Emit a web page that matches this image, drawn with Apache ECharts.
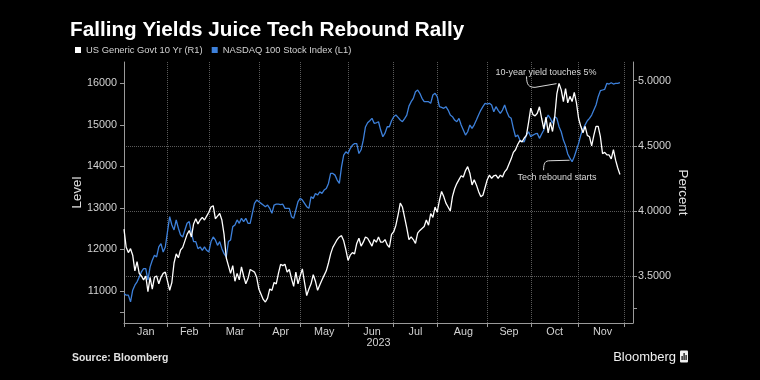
<!DOCTYPE html>
<html><head><meta charset="utf-8">
<script src="https://cdn.jsdelivr.net/npm/echarts@6/dist/echarts.min.js"></script>
<style>html,body{margin:0;padding:0;background:#000;}#c{width:760px;height:380px;}</style>
</head><body><div id="c"></div>
<script>
// ---- data ----
const holidays = ['2023-01-16','2023-02-20','2023-04-07','2023-05-29','2023-06-19','2023-07-04','2023-09-04','2023-11-23'];
const firstDay = '2023-01-03';
const lastDay = '2023-12-07';
const monthLabels = ['Jan','Feb','Mar','Apr','May','Jun','Jul','Aug','Sep','Oct','Nov'];
const yearLabel = '2023';
const leftLabelValues = [11000,12000,13000,14000,15000,16000];
const leftTickValues = [10500,11000,12000,13000,14000,15000,16000];
const rightLabelValues = [3.5,4.0,4.5,5.0];
const rightTickValues = [3.25,3.5,4.0,4.5,5.0];
const seriesNames = ['US Generic Govt 10 Yr (R1)','NASDAQ 100 Stock Index (L1)'];

const nasdaq = [
10940,10900,10900,10740,11020,11140,11220,11340,11460,11540,
11540,11260,11580,11740,11860,11820,12060,12140,11940,12060,
12430,12790,12590,12470,12710,12510,12350,12300,12470,12630,
12670,12390,12190,12190,12020,12060,11980,12060,11980,11940,
12190,12300,12230,12100,12190,12020,11900,11820,12190,12230,
12550,12590,12710,12630,12750,12670,12750,12630,12630,12870,
13110,13190,13150,13110,
13070,13030,13070,12990,12870,13070,13090,13090,13080,13090,
12990,12990,12990,12790,12750,12950,13150,13230,13190,13110,
13030,12990,13270,13230,13350,13310,13390,13350,13430,13470,
13590,13830,13830,13790,13670,13590,13990,14270,14350,14310,
14430,14510,14550,14550,14310,14400,14630,14950,15050,15100,
15157,15036,15050,15075,14875,14713,14800,14954,14954,15100,
15196,15236,15180,15116,15075,15150,15236,15450,15557,15638,
15798,15839,15759,15638,15557,15557,15557,15518,15718,15759,
15678,15437,15420,15398,15437,15357,15236,15196,15116,15075,
15157,14995,14875,14754,14834,14995,14916,15000,15116,15236,
15350,15437,15518,15500,15518,15477,15316,15437,15350,15277,
15357,15477,15316,15196,15157,14916,14713,14754,14634,14600,
14593,14754,14834,14713,14754,14780,
14795,14675,14780,14875,15116,15236,15157,15036,15196,15157,
14954,14834,14634,14500,14300,14200,14112,14232,14393,14554,
14754,14900,15000,15100,15157,15236,15357,15477,15678,15822,
15839,15855,16000,15983,16014,15983,16000,16000,16014
];

const usYield = [
3.86,3.72,3.68,3.71,3.66,3.54,3.61,3.52,3.50,3.47,
3.50,3.38,3.49,3.40,3.49,3.50,3.44,3.49,3.52,3.53,
3.46,3.39,3.45,3.60,3.67,3.64,3.70,3.72,3.77,3.82,
3.85,3.80,3.90,3.94,3.90,3.93,3.95,3.93,3.96,3.99,
4.03,4.04,3.94,3.96,3.98,3.93,3.82,3.64,3.58,3.52,
3.58,3.46,3.52,3.47,3.57,3.50,3.44,3.48,3.55,3.54,
3.53,3.49,3.40,3.36,
3.32,3.30,3.33,3.40,3.39,3.45,3.44,3.52,3.59,3.58,
3.59,3.53,3.55,3.48,3.42,3.53,3.44,3.50,3.555,3.45,
3.35,3.40,3.44,3.51,3.46,3.39,3.43,3.47,3.505,3.54,
3.60,3.67,3.72,3.75,3.78,3.80,3.81,3.77,3.70,3.62,
3.66,3.68,3.67,3.75,3.79,3.73,3.76,3.80,3.79,3.76,
3.73,3.78,3.76,3.80,3.76,3.76,3.78,3.74,3.72,3.82,
3.84,3.89,3.97,4.06,4.03,3.95,3.87,3.78,3.80,3.78,
3.75,3.83,3.85,3.865,3.88,3.93,3.89,3.98,3.95,4.03,
3.99,4.08,4.15,4.11,4.06,4.03,4.00,4.11,4.17,4.21,
4.24,4.27,4.26,4.31,4.34,4.29,4.20,4.24,4.20,4.15,
4.11,4.12,4.18,4.24,4.275,4.25,4.27,4.275,4.25,4.275,
4.26,4.30,4.32,4.36,4.40,4.45,4.47,4.51,4.54,4.53,
4.56,4.58,4.68,4.79,4.74,4.73,
4.75,4.80,4.71,4.63,4.72,4.60,4.68,4.61,4.72,4.90,
4.98,4.93,4.84,4.94,4.83,4.88,4.84,4.91,4.83,4.71,
4.65,4.60,4.65,4.58,4.57,4.50,4.58,4.65,4.65,4.57,
4.44,4.45,4.43,4.43,4.40,4.47,4.39,4.33,4.28
];

// ---- build trading-day categories ----
function buildDays(a, b, skip) {
  const out = [];
  const s = new Date(a + 'T00:00:00Z'), e = new Date(b + 'T00:00:00Z');
  for (let d = s; d <= e; d = new Date(d.getTime() + 86400000)) {
    const wd = d.getUTCDay();
    const str = d.toISOString().slice(0, 10);
    if (wd === 0 || wd === 6 || skip.indexOf(str) >= 0) continue;
    out.push(str);
  }
  return out;
}
const days = buildDays(firstDay, lastDay, holidays);
const monthStart = {};
const starts = [];
days.forEach((d, i) => {
  if (i === 0 || d.slice(5, 7) !== days[i - 1].slice(5, 7)) { monthStart[i] = true; starts.push(i); }
});
const labelAt = {};
for (let m = 0; m < monthLabels.length; m++) {
  labelAt[Math.round((starts[m] + starts[m + 1]) / 2)] = monthLabels[m];
}

const FONT = "'Liberation Sans',Arial,sans-serif";
const AXIS_COL = '#9a9a9a';
const TXT_COL = '#d2d2d2';
const GRID_COL = '#5a5a5a';
const BLUE = '#3d80da';

const chart = echarts.init(document.getElementById('c'), null, {renderer: 'canvas'});
chart.setOption({
  backgroundColor: '#000',
  animation: false,
  title: {
    text: 'Falling Yields Juice Tech Rebound Rally',
    left: 65, top: 15,
    textStyle: {color: '#fff', fontSize: 20.7, fontWeight: 'bold', fontFamily: FONT}
  },
  legend: {
    data: seriesNames,
    left: 70, top: 40.5,
    icon: 'rect', itemWidth: 6, itemHeight: 6, itemGap: 9,
    textStyle: {color: TXT_COL, fontSize: 9.4, fontFamily: FONT}
  },
  grid: {left: 124, right: 127, top: 62, bottom: 57},
  xAxis: {
    type: 'category', data: days, boundaryGap: false,
    name: yearLabel, nameLocation: 'middle', nameGap: 15, nameMoveOverlap: false,
    nameTextStyle: {color: TXT_COL, fontSize: 10.8, fontFamily: FONT},
    axisLine: {lineStyle: {color: AXIS_COL, width: 1}},
    axisTick: {interval: (i) => !!monthStart[i], length: 4, lineStyle: {color: AXIS_COL}},
    axisLabel: {
      interval: (i) => labelAt[i] !== undefined,
      formatter: (v, i) => labelAt[i] || '',
      color: TXT_COL, fontSize: 10.8, fontFamily: FONT, margin: 3.5
    },
    splitLine: {show: true, interval: (i) => i > 0 && !!monthStart[i], lineStyle: {type: 'dotted', color: GRID_COL}}
  },
  yAxis: [
    {
      type: 'value', position: 'left', min: 10230, max: 16513,
      name: 'Level', nameLocation: 'middle', nameGap: 40, nameMoveOverlap: false,
      nameTextStyle: {color: '#e0e0e0', fontSize: 13.3, fontFamily: FONT},
      axisLine: {show: true, lineStyle: {color: AXIS_COL}},
      axisTick: {show: true, length: 4, customValues: leftTickValues, lineStyle: {color: AXIS_COL}},
      axisLabel: {customValues: leftLabelValues, formatter: (v) => String(v), color: TXT_COL, fontSize: 10.8, fontFamily: FONT, margin: 7},
      splitLine: {show: false}
    },
    {
      type: 'value', position: 'right', min: 3.139, max: 5.144,
      name: 'Percent', nameLocation: 'middle', nameGap: 43, nameRotate: -90, nameMoveOverlap: false,
      nameTextStyle: {color: '#e0e0e0', fontSize: 13.3, fontFamily: FONT},
      axisLine: {show: true, lineStyle: {color: AXIS_COL}},
      axisTick: {show: true, length: 4, customValues: rightTickValues, lineStyle: {color: AXIS_COL}},
      axisLabel: {customValues: rightLabelValues, formatter: (v) => Number(v).toFixed(4), color: TXT_COL, fontSize: 10.8, fontFamily: FONT, margin: 5},
      splitLine: {show: true, showMinLine: false, showMaxLine: false, lineStyle: {type: 'dotted', color: GRID_COL}}
    }
  ],
  series: [
    {
      name: seriesNames[1], type: 'line', yAxisIndex: 0, data: nasdaq,
      symbol: 'none', color: BLUE, lineStyle: {color: BLUE, width: 1.3}
    },
    {
      name: seriesNames[0], type: 'line', yAxisIndex: 1, data: usYield,
      symbol: 'none', color: '#ffffff', lineStyle: {color: '#ffffff', width: 1.3}
    }
  ]
});

// ---- annotations anchored to the data ----
let peakI = 0;
usYield.forEach((v, i) => { if (v > usYield[peakI]) peakI = i; });
let troughI = 190;
for (let i = 190; i < nasdaq.length; i++) if (nasdaq[i] < nasdaq[troughI]) troughI = i;
const P = chart.convertToPixel({seriesIndex: 1}, [peakI, usYield[peakI]]);
const T = chart.convertToPixel({seriesIndex: 0}, [troughI, nasdaq[troughI]]);
const ANN = '#d8d8d8';
function txt(t, x, y, font, fill, align) {
  return {type: 'text', x: x, y: y, silent: true,
    style: {text: t, font: font, fill: fill, align: align || 'center', textAlign: align || 'center',
            verticalAlign: 'middle', textVerticalAlign: 'middle'}};
}
chart.setOption({
  graphic: [
    txt('10-year yield touches 5%', P[0] - 13, P[1] - 11, '9px ' + FONT, ANN),
    {type: 'bezierCurve', silent: true,
     shape: {x1: P[0] - 32.5, y1: P[1] - 7, cpx1: P[0] - 32.5, cpy1: P[1] + 2, cpx2: P[0] - 30, cpy2: P[1] + 4, x2: P[0] - 24, y2: P[1] + 4},
     style: {stroke: ANN, lineWidth: 1, fill: null}},
    {type: 'line', silent: true, shape: {x1: P[0] - 24, y1: P[1] + 4, x2: P[0] - 2.5, y2: P[1] + 0.3},
     style: {stroke: ANN, lineWidth: 1}},
    txt('Tech rebound starts', T[0] - 15, T[1] + 15.5, '9px ' + FONT, ANN),
    {type: 'bezierCurve', silent: true,
     shape: {x1: T[0] - 28.5, y1: T[1] + 8.5, cpx1: T[0] - 28.5, cpy1: T[1] + 1, cpx2: T[0] - 27, cpy2: T[1] - 1, x2: T[0] - 22, y2: T[1] - 1},
     style: {stroke: ANN, lineWidth: 1, fill: null}},
    {type: 'line', silent: true, shape: {x1: T[0] - 22, y1: T[1] - 1, x2: T[0] - 2.5, y2: T[1] - 1.5},
     style: {stroke: ANN, lineWidth: 1}},
    txt('Source: Bloomberg', 72, 358, 'bold 10.4px ' + FONT, '#e2e2e2', 'left'),
    txt('Bloomberg', 676, 357, '13px ' + FONT, '#f0f0f0', 'right'),
    {type: 'rect', silent: true, shape: {x: 680, y: 350.5, width: 8, height: 12, r: 1}, style: {fill: '#f0f0f0'}},
    {type: 'rect', silent: true, shape: {x: 681.5, y: 356, width: 1.2, height: 4}, style: {fill: '#000'}},
    {type: 'rect', silent: true, shape: {x: 683.5, y: 353, width: 1.2, height: 7}, style: {fill: '#000'}},
    {type: 'rect', silent: true, shape: {x: 685.5, y: 355, width: 1.2, height: 5}, style: {fill: '#000'}}
  ]
});
</script>
</body></html>
